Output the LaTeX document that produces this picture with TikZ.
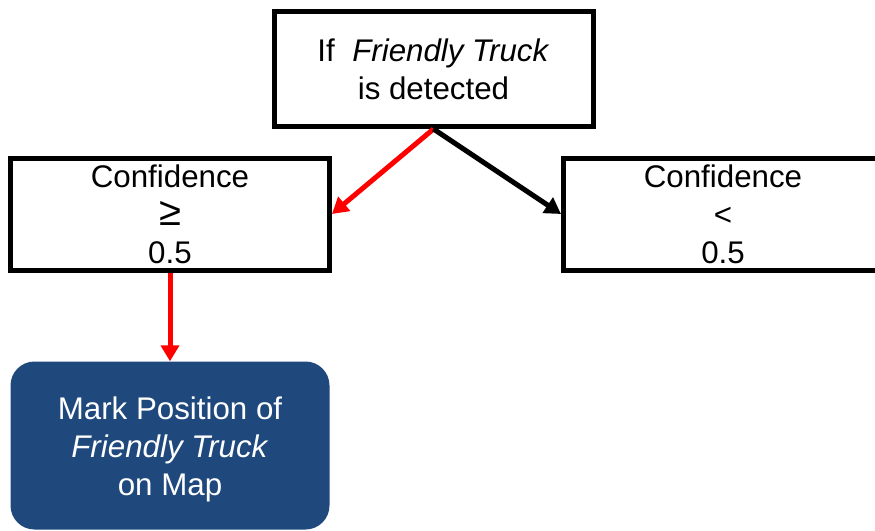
\documentclass[tikz,border=0pt]{standalone}
\usepackage{fontspec}
\setmainfont{Liberation Sans}
\usepackage{tikz}
\usetikzlibrary{arrows.meta, positioning, calc}
\usepackage{xcolor}
\definecolor{yesred}{RGB}{255,0,0}
\definecolor{actblue}{RGB}{31,73,125}

\begin{document}
\begin{tikzpicture}[x=1pt, y=1pt,
  every node/.style={font=\fontsize{31.3}{38}\selectfont, align=center, inner sep=0pt},
  testbox/.style={draw=black, line width=5pt, rectangle, minimum width=319pt},
  actbox/.style={fill=actblue, text=white, rounded corners=24pt, minimum width=319pt, minimum height=168pt, text height=107pt},
  branch/.style={line width=5pt, -{Triangle[length=16pt, width=18pt]}}]
  \useasboundingbox (0,0) rectangle (875,-530);
  % condition to test
  \node[testbox, minimum height=115pt] (check) at (433.5,-69) {If\ \ \textit{Friendly Truck}\\is detected};
  % the two outcomes
  \node[testbox, minimum height=112pt] (high) at (170,-214) {Confidence\\{\fontsize{40}{38}\selectfont ≥}\\0.5};
  \node[testbox, minimum height=112pt] (low) at (723,-214) {Confidence\\<\\0.5};
  % resulting action
  \node[actbox] (mark) at (170,-445.5) {Mark Position of\\\textit{Friendly Truck}\\on Map};
  % arrows
  \draw[branch, yesred] (check.south) -- (high.east);
  \draw[branch, black] (check.south) -- (low.west);
  \draw[branch, yesred] (high.south) -- (mark.north);
\end{tikzpicture}
\end{document}
